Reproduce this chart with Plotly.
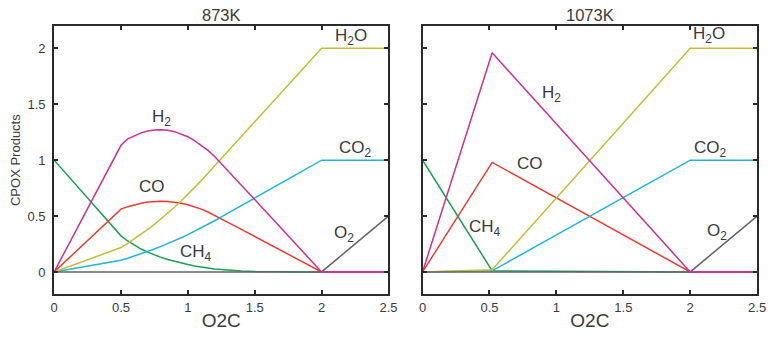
import plotly.graph_objects as go

# ---- data ----
o2c_873 = [0, 0.5, 0.55, 0.6, 0.65, 0.7, 0.75, 0.8, 0.85, 0.9, 0.95, 1.0, 1.05, 1.1, 1.15, 1.2, 1.25,
           1.3, 1.4, 1.5, 1.6, 1.7, 1.8, 1.9, 2.0, 2.5]
h2_873 = [0, 1.133, 1.190, 1.220, 1.244, 1.260, 1.270, 1.272, 1.267, 1.255, 1.235, 1.209, 1.175, 1.135, 1.087,
          1.032, 0.970, 0.905, 0.776, 0.647, 0.517, 0.388, 0.259, 0.129, 0, 0]
co_873 = [0, 0.562, 0.584, 0.601, 0.615, 0.625, 0.631, 0.633, 0.631, 0.625, 0.615, 0.601, 0.584, 0.562, 0.536,
          0.507, 0.475, 0.444, 0.380, 0.317, 0.254, 0.190, 0.127, 0.063, 0, 0]
h2o_873 = [0, 0.218, 0.255, 0.294, 0.336, 0.380, 0.426, 0.475, 0.526, 0.579, 0.635, 0.693, 0.753, 0.817, 0.883,
           0.948, 1.014, 1.080, 1.211, 1.343, 1.474, 1.606, 1.737, 1.869, 2.0, 2.0]
co2_873 = [0, 0.105, 0.123, 0.142, 0.162, 0.183, 0.205, 0.229, 0.253, 0.279, 0.306, 0.334, 0.364, 0.394, 0.426,
           0.458, 0.492, 0.525, 0.592, 0.66, 0.728, 0.796, 0.864, 0.932, 1.0, 1.0]
ch4_873 = [1.0, 0.323, 0.277, 0.238, 0.205, 0.177, 0.152, 0.130, 0.111, 0.094, 0.079, 0.066, 0.054, 0.044, 0.035,
           0.027, 0.021, 0.016, 0.008, 0.003, 0.001, 0, 0, 0, 0, 0]
o2_873 = [0] * 25 + [0.5]

o2c_1073 = [0, 0.52, 2.0, 2.5]
h2_1073 = [0, 1.96, 0, 0]
co_1073 = [0, 0.98, 0, 0]
ch4_1073 = [1.0, 0.01, 0, 0]
h2o_1073 = [0, 0.02, 2.0, 2.0]
co2_1073 = [0, 0.01, 1.0, 1.0]
o2_1073 = [0, 0, 0, 0.5]

panel_titles = ["873K", "1073K"]
x_ticks = [0, 0.5, 1, 1.5, 2, 2.5]
x_ticktext = ["0", "0.5", "1", "1.5", "2", "2.5"]
y_ticks = [0, 0.5, 1, 1.5, 2]
y_ticktext = ["0", "0.5", "1", "1.5", "2"]

colors = {
    "CH4": "#16a052",
    "CO": "#ee3a30",
    "CO2": "#1eb4dc",
    "H2O": "#c9bb34",
    "O2": "#5f6466",
    "H2": "#cc2f96",
}

# label positions (x, y) per panel
labels_873 = [("H<sub>2</sub>", 0.80, 1.38), ("CO", 0.735, 0.76), ("CH<sub>4</sub>", 1.06, 0.17),
              ("H<sub>2</sub>O", 2.22, 2.10), ("CO<sub>2</sub>", 2.25, 1.10), ("O<sub>2</sub>", 2.17, 0.34)]
labels_1073 = [("H<sub>2</sub>", 0.96, 1.59), ("CO", 0.80, 0.97), ("CH<sub>4</sub>", 0.47, 0.39),
               ("H<sub>2</sub>O", 2.14, 2.12), ("CO<sub>2</sub>", 2.15, 1.10), ("O<sub>2</sub>", 2.20, 0.36)]

FONT = "Liberation Sans, Arial, sans-serif"
TXT = "#3a3a3a"

fig = go.Figure()

panels = [
    (o2c_873, {"CH4": ch4_873, "CO": co_873, "CO2": co2_873, "H2O": h2o_873, "O2": o2_873, "H2": h2_873}, "x", "y"),
    (o2c_1073, {"CH4": ch4_1073, "CO": co_1073, "CO2": co2_1073, "H2O": h2o_1073, "O2": o2_1073, "H2": h2_1073}, "x2", "y2"),
]
for xs, series, xa, ya in panels:
    for name in ["CH4", "CO", "CO2", "H2O", "O2", "H2"]:
        fig.add_trace(go.Scatter(x=xs, y=series[name], mode="lines", name=name,
                                 line=dict(color=colors[name], width=1.5),
                                 xaxis=xa, yaxis=ya, showlegend=False, hoverinfo="skip"))

axis_common = dict(showline=True, linecolor="#2a2a2a", linewidth=2, mirror="ticks",
                   ticks="inside", ticklen=4, tickwidth=1.5, tickcolor="#2a2a2a",
                   showgrid=False, zeroline=False,
                   tickfont=dict(family=FONT, size=13, color=TXT))

ydom = [1 - 294.3 / 339, 1 - 26 / 339]
fig.update_layout(
    width=775, height=339,
    margin=dict(l=0, r=0, t=0, b=0),
    paper_bgcolor="white", plot_bgcolor="white",
    xaxis=dict(domain=[51 / 775, 391 / 775], range=[0, 2.5], tickvals=x_ticks, ticktext=x_ticktext,
               title=dict(text="O2C", font=dict(family=FONT, size=19, color=TXT), standoff=0), anchor="y", **axis_common),
    yaxis=dict(domain=ydom, range=[-0.2, 2.2], tickvals=y_ticks, ticktext=y_ticktext, ticklabelstandoff=4,
               title=dict(text="CPOX Products", font=dict(family=FONT, size=13, color=TXT), standoff=4), anchor="x", **axis_common),
    xaxis2=dict(domain=[425.7 / 775, 766 / 775], range=[0, 2.5], tickvals=x_ticks, ticktext=x_ticktext,
                title=dict(text="O2C", font=dict(family=FONT, size=19, color=TXT), standoff=0), anchor="y2", **axis_common),
    yaxis2=dict(domain=ydom, range=[-0.2, 2.2], tickvals=y_ticks, ticktext=y_ticktext, showticklabels=False,
                anchor="x2", **axis_common),
)

annotations = []
for t, xa in zip(panel_titles, ["x", "x2"]):
    annotations.append(dict(text=t, xref=xa + " domain", yref="paper", x=0.5, y=1 - 15 / 339,
                            showarrow=False, yanchor="middle", xanchor="center",
                            font=dict(family=FONT, size=16.5, color=TXT)))
for labs, xa, ya in [(labels_873, "x", "y"), (labels_1073, "x2", "y2")]:
    for txt, lx, ly in labs:
        annotations.append(dict(text=txt, x=lx, y=ly, xref=xa, yref=ya, showarrow=False,
                                xanchor="center", yanchor="middle",
                                font=dict(family=FONT, size=17, color=TXT)))
fig.update_layout(annotations=annotations)

fig.write_html("out.html")
